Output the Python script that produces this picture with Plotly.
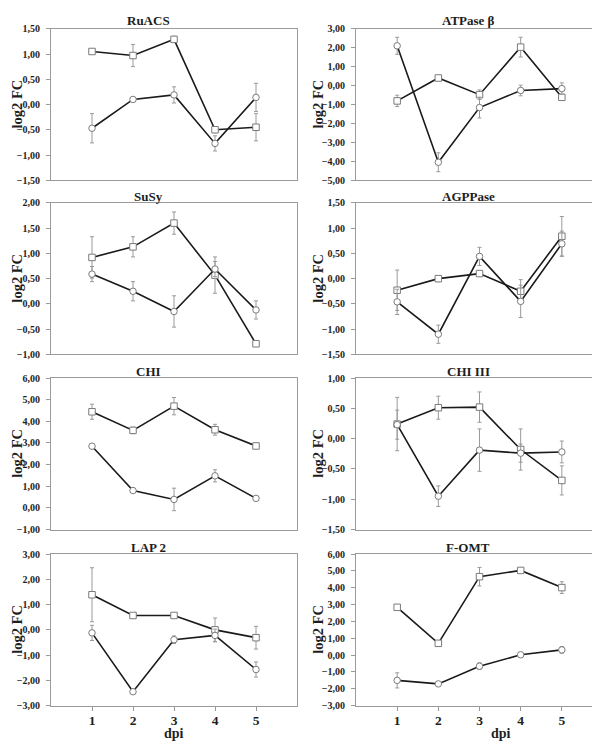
import plotly.graph_objects as go

W, H = 600, 741
dpi = [1, 2, 3, 4, 5]
x_tick_labels = ["1", "2", "3", "4", "5"]

titles = ["RuACS", "ATPase β", "SuSy", "AGPPase", "CHI", "CHI III", "LAP 2", "F-OMT"]

sq_ruacs = [1.05, 0.97, 1.29, -0.50, -0.45]
sq_ruacs_err = [0.03, 0.22, 0.06, 0.06, 0.27]
ci_ruacs = [-0.47, 0.10, 0.19, -0.77, 0.14]
ci_ruacs_err = [0.29, 0.02, 0.16, 0.15, 0.28]

sq_atp = [-0.81, 0.40, -0.48, 2.03, -0.62]
sq_atp_err = [0.30, 0.05, 0.25, 0.52, 0.05]
ci_atp = [2.10, -4.05, -1.16, -0.26, -0.16]
ci_atp_err = [0.45, 0.50, 0.55, 0.28, 0.30]

sq_susy = [0.92, 1.13, 1.60, 0.57, -0.79]
sq_susy_err = [0.41, 0.20, 0.22, 0.36, 0.02]
ci_susy = [0.59, 0.25, -0.15, 0.69, -0.12]
ci_susy_err = [0.15, 0.19, 0.31, 0.15, 0.18]

sq_agp = [-0.23, 0.00, 0.10, -0.25, 0.84]
sq_agp_err = [0.40, 0.06, 0.03, 0.23, 0.39]
ci_agp = [-0.46, -1.10, 0.44, -0.45, 0.69]
ci_agp_err = [0.25, 0.18, 0.18, 0.32, 0.25]

sq_chi = [4.44, 3.58, 4.70, 3.61, 2.86]
sq_chi_err = [0.35, 0.15, 0.40, 0.25, 0.05]
ci_chi = [2.85, 0.80, 0.39, 1.48, 0.44]
ci_chi_err = [0.05, 0.05, 0.52, 0.28, 0.05]

sq_chi3 = [0.24, 0.51, 0.52, -0.18, -0.69]
sq_chi3_err = [0.44, 0.19, 0.25, 0.34, 0.24]
ci_chi3 = [0.23, -0.95, -0.19, -0.24, -0.22]
ci_chi3_err = [0.24, 0.17, 0.35, 0.15, 0.18]

sq_lap = [1.39, 0.57, 0.57, 0.00, -0.31]
sq_lap_err = [1.07, 0.05, 0.05, 0.47, 0.45]
ci_lap = [-0.12, -2.45, -0.39, -0.22, -1.57]
ci_lap_err = [0.30, 0.05, 0.15, 0.25, 0.30]

sq_fomt = [2.84, 0.70, 4.66, 5.03, 4.01]
sq_fomt_err = [0.08, 0.08, 0.55, 0.08, 0.35]
ci_fomt = [-1.50, -1.71, -0.66, 0.02, 0.31]
ci_fomt_err = [0.45, 0.05, 0.20, 0.05, 0.20]

squares = [sq_ruacs, sq_atp, sq_susy, sq_agp, sq_chi, sq_chi3, sq_lap, sq_fomt]
squares_err = [sq_ruacs_err, sq_atp_err, sq_susy_err, sq_agp_err, sq_chi_err, sq_chi3_err, sq_lap_err, sq_fomt_err]
circles = [ci_ruacs, ci_atp, ci_susy, ci_agp, ci_chi, ci_chi3, ci_lap, ci_fomt]
circles_err = [ci_ruacs_err, ci_atp_err, ci_susy_err, ci_agp_err, ci_chi_err, ci_chi3_err, ci_lap_err, ci_fomt_err]

y_ranges = [(-1.5, 1.5), (-5, 3), (-1, 2), (-1.5, 1.5), (-1, 6), (-1.5, 1), (-3, 3), (-3, 6)]
y_dticks = [0.5, 1, 0.5, 0.5, 1, 0.5, 1, 1]

# layout geometry (pixels)
col_x = [(43, 289), (348, 595)]
row_y = [(15, 169), (192, 346), (370, 524), (549, 703)]
title_x = [140, 460]
title_y = [7, 185, 363, 542]
ylab_x = [9, 310]
dpi_x = [166, 493]

FONT = "Liberation Serif"
GRAY = "#9a9a9a"
TXT = "#1e1e1e"

fig = go.Figure()
annotations = []
layout_axes = {}

for i in range(8):
    r, c = divmod(i, 2)
    n = i + 1
    xa = "x" if n == 1 else f"x{n}"
    ya = "y" if n == 1 else f"y{n}"
    xkey = "xaxis" if n == 1 else f"xaxis{n}"
    ykey = "yaxis" if n == 1 else f"yaxis{n}"
    x0, x1 = col_x[c]
    y0, y1 = row_y[r]
    bottom = (r == 3)
    layout_axes[xkey] = dict(
        domain=[x0 / W, x1 / W], anchor=ya, range=[0, 6],
        tickvals=dpi if bottom else [], ticktext=x_tick_labels if bottom else [],
        showticklabels=bottom, ticks="outside" if bottom else "", ticklen=4,
        ticklabelstandoff=-2,
        tickcolor=GRAY, showline=True, linecolor=GRAY, linewidth=1, mirror=True,
        showgrid=False, zeroline=False,
        tickfont=dict(family=FONT, size=13.5, color=TXT, weight="bold"),
    )
    yr = y_ranges[i]
    layout_axes[ykey] = dict(
        domain=[1 - y1 / H, 1 - y0 / H], anchor=xa, range=list(yr),
        tick0=yr[0], dtick=y_dticks[i], tickformat=".2f",
        ticks="outside", ticklen=4, tickcolor=GRAY, ticklabelstandoff=4,
        showline=True, linecolor=GRAY, linewidth=1, mirror=True,
        showgrid=False, zeroline=False,
        tickfont=dict(family=FONT, size=10, color=TXT, weight="bold"),
    )
    for vals, errs, sym in ((squares[i], squares_err[i], "square"), (circles[i], circles_err[i], "circle")):
        fig.add_trace(go.Scatter(
            x=dpi, y=vals, xaxis=xa, yaxis=ya, mode="lines+markers",
            line=dict(color="#1a1a1a", width=1.6),
            marker=dict(symbol=sym, size=6.5, color="white", line=dict(color="#7a7a7a", width=1)),
            error_y=dict(type="data", array=errs, visible=True, color=GRAY, thickness=1, width=2),
            showlegend=False, cliponaxis=False,
        ))
    annotations.append(dict(text=f"<b>{titles[i]}</b>", x=title_x[c] / W, y=1 - title_y[r] / H,
                            xref="paper", yref="paper", showarrow=False,
                            font=dict(family=FONT, size=13, color=TXT), xanchor="center", yanchor="middle"))
    annotations.append(dict(text="<b>log2 FC</b>", x=ylab_x[c] / W, y=1 - (y0 + y1) / 2 / H,
                            xref="paper", yref="paper", showarrow=False, textangle=-90,
                            font=dict(family=FONT, size=14.5, color=TXT), xanchor="center", yanchor="middle"))
    if bottom:
        annotations.append(dict(text="<b>dpi</b>", x=dpi_x[c] / W, y=1 - 731 / H,
                                xref="paper", yref="paper", showarrow=False,
                                font=dict(family=FONT, size=14, color=TXT), xanchor="center", yanchor="middle"))

fig.update_layout(
    width=W, height=H, margin=dict(l=0, r=0, t=0, b=0),
    paper_bgcolor="white", plot_bgcolor="white",
    separators=",.", annotations=annotations, showlegend=False,
    **layout_axes,
)
fig.write_html("out.html")
